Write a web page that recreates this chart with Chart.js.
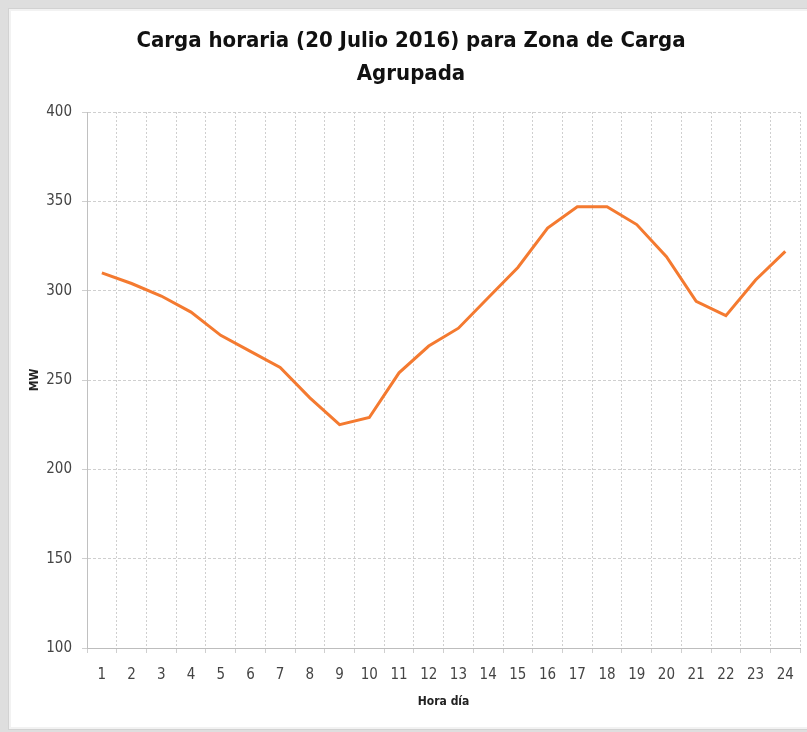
<!DOCTYPE html>
<html>
<head>
<meta charset="utf-8">
<script src="https://cdn.jsdelivr.net/npm/chart.js@4"></script>
<style>
  html, body { margin: 0; padding: 0; background: #dedede; }
  body { width: 807px; height: 732px; position: relative; overflow: hidden; }
  #card { position: absolute; left: 8px; top: 8px; width: 820px; height: 720px;
          background: #fff; border: 1px solid #d2d2d2; box-shadow: inset 0 0 0 2px #f2f2f2; }
  #wrap { position: absolute; left: 0; top: 0; width: 807px; height: 732px; }
</style>
</head>
<body>
<div id="card"></div>
<div id="wrap"><canvas id="c" width="807" height="732"></canvas></div>
<script>
const chartTitle = ['Carga horaria (20 Julio 2016) para Zona de Carga', 'Agrupada'];
const xTitle = 'Hora día';
const yTitle = 'MW';
const hours = ['1','2','3','4','5','6','7','8','9','10','11','12','13','14','15','16','17','18','19','20','21','22','23','24'];
const loadMW = [310, 304, 297, 288, 275, 266, 257, 240, 225, 229, 254, 269, 279, 296, 313, 335, 347, 347, 337, 319, 294, 286, 306, 322];
const yMin = 100, yMax = 400, yStep = 50;

const narrow = '"Liberation Sans Narrow", "DejaVu Sans Condensed", Arial, sans-serif';

new Chart(document.getElementById('c'), {
  type: 'line',
  data: {
    labels: hours,
    datasets: [{
      data: loadMW,
      borderColor: '#F47A30',
      borderWidth: 3,
      pointRadius: 0,
      pointHoverRadius: 0,
      tension: 0,
      fill: false
    }]
  },
  options: {
    responsive: false,
    animation: false,
    devicePixelRatio: 1,
    layout: { padding: { left: 20, right: 5, top: 10, bottom: 0 } },
    plugins: {
      legend: { display: false },
      tooltip: { enabled: false },
      title: {
        display: true,
        text: chartTitle,
        color: '#111',
        font: { family: narrow, size: 22, weight: 'bold', lineHeight: 1.5 },
        padding: { top: 15, bottom: 21 }
      }
    },
    scales: {
      x: {
        offset: true,
        grid: { offset: true, color: '#cfcfcf', lineWidth: 1, tickLength: 5, drawTicks: true },
        border: { display: true, color: '#bdbdbd', dash: [2, 2] },
        ticks: { color: '#444', font: { family: narrow, size: 15 }, padding: 13, autoSkip: false, maxRotation: 0 },
        title: { display: true, text: xTitle, color: '#222', font: { family: narrow, size: 12, weight: 'bold' }, padding: { top: 0, bottom: 23 } },
        afterFit: s => { s.height = 84; }
      },
      y: {
        min: yMin, max: yMax,
        ticks: { stepSize: yStep, color: '#444', font: { family: narrow, size: 15 }, padding: 10 },
        grid: { color: '#cfcfcf', lineWidth: 1, tickLength: 5 },
        border: { display: true, color: '#c0c0c0', dash: [3, 2] },
        title: { display: true, text: yTitle, color: '#222', font: { family: narrow, size: 12, weight: 'bold' }, padding: { top: 8, bottom: 0 } },
        afterFit: s => { s.width = 67; }
      }
    }
  }
});
</script>
</body>
</html>
